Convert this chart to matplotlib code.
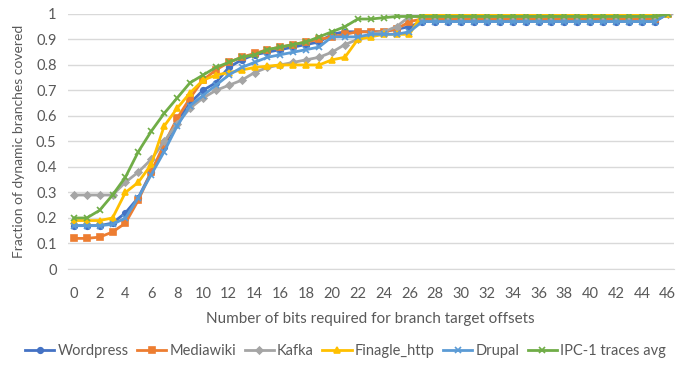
import matplotlib
matplotlib.use("Agg")
from matplotlib import pyplot as plt

plt.rcParams['font.family'] = ['Lato', 'DejaVu Sans']

bits = list(range(0, 47))

wordpress = [0.17, 0.17, 0.17, 0.18, 0.22, 0.28, 0.38, 0.48, 0.58, 0.65,
             0.70, 0.73, 0.79, 0.82, 0.84, 0.85, 0.86, 0.87, 0.88, 0.89,
             0.92, 0.93, 0.93, 0.93, 0.93, 0.94, 0.95] + [0.97] * 19 + [1.0]
mediawiki = [0.12, 0.12, 0.125, 0.145, 0.18, 0.27, 0.38, 0.49, 0.59, 0.67,
             0.74, 0.78, 0.81, 0.83, 0.845, 0.86, 0.87, 0.88, 0.89, 0.90,
             0.91, 0.92, 0.93, 0.93, 0.93, 0.94, 0.97] + [0.98] * 19 + [1.0]
kafka = [0.29, 0.29, 0.29, 0.29, 0.34, 0.38, 0.43, 0.50, 0.57, 0.63,
         0.67, 0.70, 0.72, 0.74, 0.77, 0.79, 0.80, 0.81, 0.82, 0.83,
         0.85, 0.88, 0.90, 0.92, 0.93, 0.95, 0.99] + [0.99] * 19 + [1.0]
finagle = [0.19, 0.19, 0.19, 0.20, 0.30, 0.34, 0.41, 0.56, 0.63, 0.69,
           0.74, 0.76, 0.77, 0.78, 0.79, 0.795, 0.80, 0.80, 0.80, 0.80,
           0.82, 0.83, 0.90, 0.91, 0.92, 0.92, 0.92] + [1.0] * 19 + [1.0]
drupal = [0.17, 0.17, 0.17, 0.175, 0.20, 0.28, 0.37, 0.46, 0.56, 0.64,
          0.68, 0.72, 0.76, 0.79, 0.81, 0.83, 0.84, 0.85, 0.86, 0.87,
          0.91, 0.91, 0.91, 0.92, 0.92, 0.92, 0.93] + [0.97] * 19 + [1.0]
ipc1 = [0.20, 0.20, 0.23, 0.29, 0.36, 0.46, 0.54, 0.61, 0.67, 0.73,
        0.76, 0.79, 0.81, 0.83, 0.84, 0.86, 0.87, 0.88, 0.89, 0.91,
        0.93, 0.95, 0.98, 0.98, 0.985, 0.99, 0.99] + [0.99] * 19 + [1.0]

series = [
    ("Wordpress", wordpress, "#4472C4", "o"),
    ("Mediawiki", mediawiki, "#ED7D31", "s"),
    ("Kafka", kafka, "#A5A5A5", "D"),
    ("Finagle_http", finagle, "#FFC000", "^"),
    ("Drupal", drupal, "#5B9BD5", "x"),
    ("IPC-1 traces avg", ipc1, "#70AD47", "x"),
]

fig = plt.figure(figsize=(6.91, 3.66), dpi=100)
ax = fig.add_axes([0.098, 0.265, 0.877, 0.697])

for name, vals, color, mk in series:
    ms = 4 if mk in ("o", "s") else 4.5
    if mk == "D":
        ms = 3.5
    ax.plot(bits, vals, color=color, lw=2, marker=mk, ms=ms, mew=1.2,
            label=name)

ax.set_xlim(-0.47, 46.47)
ax.set_ylim(0, 1)
ax.set_xticks(range(0, 47, 2))
ax.set_yticks([i / 10 for i in range(11)])
ax.set_yticklabels(["0", "0.1", "0.2", "0.3", "0.4", "0.5", "0.6", "0.7",
                    "0.8", "0.9", "1"])
ax.grid(axis="y", color="#D9D9D9", lw=1)
ax.set_axisbelow(True)
for s in ["top", "right", "left"]:
    ax.spines[s].set_visible(False)
ax.spines["bottom"].set_color("#D9D9D9")
ax.tick_params(axis="y", length=0, labelsize=10.5, colors="#595959", pad=8)
ax.tick_params(axis="x", length=0, labelsize=10.5, colors="#595959", pad=13)

ax.set_xlabel("Number of bits required for branch target offsets",
              fontsize=11, color="#595959", labelpad=8)
ax.set_ylabel("Fraction of dynamic branches covered", fontsize=10,
              color="#595959", labelpad=8)

fig.legend(loc="center", bbox_to_anchor=(0.5, 0.04), ncol=6, frameon=False,
           fontsize=10.5, handlelength=2, handletextpad=0.2, columnspacing=0.6,
           labelcolor="#595959")

fig.savefig("out.png", dpi=100)
